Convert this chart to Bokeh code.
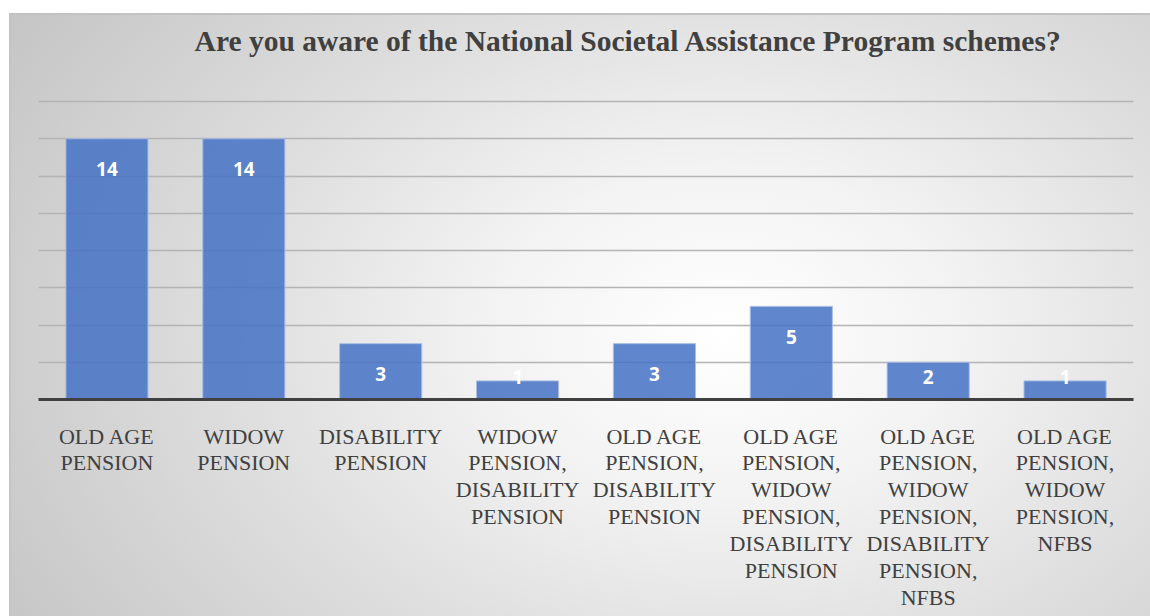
from bokeh.plotting import figure
from bokeh.models import ColumnDataSource, FixedTicker, InlineStyleSheet
from bokeh.core.properties import value
from bokeh.embed import file_html
from bokeh.resources import INLINE

categories = [
    "OLD AGE\nPENSION",
    "WIDOW\nPENSION",
    "DISABILITY\nPENSION",
    "WIDOW\nPENSION,\nDISABILITY\nPENSION",
    "OLD AGE\nPENSION,\nDISABILITY\nPENSION",
    "OLD AGE\nPENSION,\nWIDOW\nPENSION,\nDISABILITY\nPENSION",
    "OLD AGE\nPENSION,\nWIDOW\nPENSION,\nDISABILITY\nPENSION,\nNFBS",
    "OLD AGE\nPENSION,\nWIDOW\nPENSION,\nNFBS",
]
counts = [14, 14, 3, 1, 3, 5, 2, 1]
title_text = "Are you aware of the National Societal Assistance Program schemes?"
axis_max = 16
grid_step = 2

label_y = [max(v - 1.65, 1.2) for v in counts]
source = ColumnDataSource(dict(cat=categories, val=counts, ly=label_y,
                               txt=[str(v) for v in counts]))

W, H = 1150, 616
TOP, BOTTOM = 13, 217
px_per_unit = 298 / axis_max
y_top = (H - TOP - BOTTOM) / px_per_unit

p = figure(x_range=categories, y_range=(0, y_top), width=W, height=H,
           output_backend="svg", toolbar_location=None,
           min_border_left=38, min_border_right=17, min_border_top=TOP,
           min_border_bottom=BOTTOM)

css = """
:host {
  background: radial-gradient(ellipse 72% 95% at 63% 54%, #ffffff 0%, #f3f3f3 28%, #dedede 60%, #c6c6c6 100%);
  box-shadow: inset 0 13px 0 #ffffff, inset 9px 0 0 #ffffff, inset 0 15px 0 #c2c2c2, inset 11px 0 0 #c4c4c4;
}
"""
p.stylesheets = [InlineStyleSheet(css=css)]
p.border_fill_color = None
p.background_fill_color = None
p.outline_line_color = None

p.yaxis.visible = False
p.xgrid.grid_line_color = None
p.ygrid.ticker = FixedTicker(ticks=list(range(grid_step, axis_max + 1, grid_step)))
p.ygrid.grid_line_color = "#b4b4b4"
p.ygrid.grid_line_width = 1.5

p.vbar(x="cat", top="val", width=0.6, source=source,
       fill_color="#4472C4", fill_alpha=0.85,
       line_color="#aabde4", line_width=1)

p.text(x="cat", y="ly", text="txt", source=source,
       text_color="white", text_font=value("Open Sans"),
       text_font_style="bold", text_font_size="19px",
       text_align="center", text_baseline="middle")

# chart title drawn in the space above the value range
p.text(x=[categories[4]], y=[(H - BOTTOM - 40) / px_per_unit], text=[title_text],
       x_offset=-26, text_color="#404040", text_font=value("Liberation Serif"),
       text_font_style="bold", text_font_size="29.5px",
       text_align="center", text_baseline="middle")

ax = p.xaxis[0]
ax.major_label_text_font = "Liberation Serif"
ax.major_label_text_font_size = "22px"
ax.major_label_text_color = "#404040"
ax.major_label_text_line_height = 1.075
ax.major_label_standoff = 18
ax.major_tick_line_color = None
ax.minor_tick_line_color = None
ax.axis_line_color = "#404040"
ax.axis_line_width = 3

open("out.html", "w").write(file_html(p, INLINE))
